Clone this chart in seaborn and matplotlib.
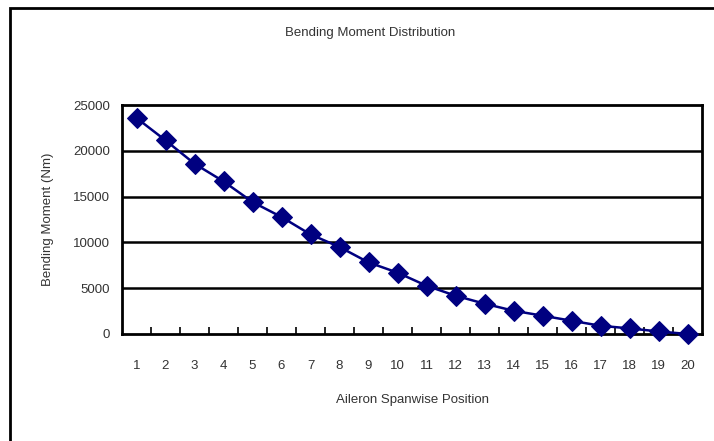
import matplotlib
matplotlib.use("Agg")
import matplotlib.pyplot as plt
from matplotlib.patches import Rectangle
from matplotlib.ticker import FixedLocator
import seaborn as sns
import pandas as pd

# Bending moment at each spanwise station of the aileron
positions = list(range(1, 21))
moment = [23580, 21140, 18590, 16660, 14410, 12770, 10870, 9500, 7820, 6700,
          5270, 4180, 3310, 2540, 2000, 1450, 900, 610, 280, 0]
y_ticks = [0, 5000, 10000, 15000, 20000, 25000]

df = pd.DataFrame({"position": positions, "moment": moment})

sns.set_style("white")
plt.rcParams["font.family"] = ["Liberation Sans", "DejaVu Sans"]
text_color = "#333333"

fig = plt.figure(figsize=(7.14, 4.41), dpi=100)
W, H = 714, 441
ax = fig.add_axes([122 / W, 1 - 334 / H, (702 - 122) / W, (334 - 105) / H])

sns.lineplot(data=df, x="position", y="moment", ax=ax, color="#000080",
             linewidth=1.8, marker="D", markersize=10, markeredgecolor="#000080",
             zorder=5, clip_on=False)

ax.set_xlim(0.5, 20.5)
ax.set_ylim(0, 25000)
ax.set_yticks(y_ticks)
ax.set_xticks(positions)
ax.xaxis.set_minor_locator(FixedLocator([p + 0.5 for p in positions[:-1]]))

ax.grid(False)
for v in y_ticks[1:-1]:
    ax.axhline(v, color="black", linewidth=1.8, zorder=1)

for s in ax.spines.values():
    s.set_color("black")
    s.set_linewidth(2)
    s.set_visible(True)

ax.tick_params(axis="x", which="major", length=0, pad=19, labelsize=9.5,
               labelcolor=text_color)
ax.tick_params(axis="x", which="minor", direction="in", length=5, width=1.2,
               color="black", bottom=True)
ax.tick_params(axis="y", which="major", length=0, pad=8.5, labelsize=9.5,
               labelcolor=text_color)

ax.set_xlabel("Aileron Spanwise Position", fontsize=9.5, color=text_color,
              labelpad=15.5)
ax.set_ylabel("Bending Moment (Nm)", fontsize=9.5, color=text_color,
              labelpad=14)
fig.text(370 / W, 1 - 33 / H, "Bending Moment Distribution", fontsize=9.5,
         color=text_color, ha="center", va="center")

# outer chart frame
fig.patches.append(Rectangle((10 / W, -0.1), 1.2, 1 - 8 / H + 0.1,
                             transform=fig.transFigure, fill=False,
                             edgecolor="black", linewidth=2))

fig.savefig("out.png", dpi=100, facecolor="white")
